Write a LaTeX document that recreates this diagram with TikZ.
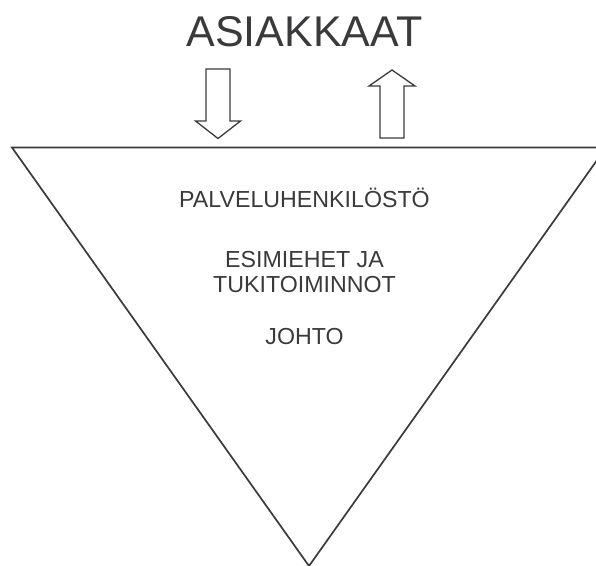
\documentclass[tikz,border=0pt]{standalone}
\usepackage{fontspec}
\setmainfont{Liberation Sans}
\usetikzlibrary{positioning}

\definecolor{ink}{RGB}{58,58,60}

\begin{document}
\begin{tikzpicture}[x=1pt, y=-1pt,
    title/.style={anchor=base, text=ink, font=\fontsize{43}{50}\selectfont},
    level/.style={anchor=base, text=ink, align=center, font=\fontsize{23.2}{25}\selectfont},
    pyramid/.style={draw=ink, line width=1.7pt, line join=miter},
    flow/.style={draw=ink, line width=1.3pt, line join=miter}
]

\useasboundingbox (0,0) rectangle (596,565);
\clip (0,0) rectangle (596,565);

% the upside-down organisation
\coordinate (TopLeft) at (12,147.5);
\coordinate (TopRight) at (606,147.5);
\coordinate (Bottom) at (309,566);
\draw [pyramid] (TopLeft) -- (TopRight) -- (Bottom) -- cycle;

\node [title] (Customers) at (304.5,46.5) {ASIAKKAAT};

% service goes down, feedback comes up
\coordinate (In) at (206,69);
\draw [flow] (In) -- ++(24,0) -- ++(0,52) -- ++(10.5,0) -- ++(-22.5,17.5)
    -- ++(-22.5,-17.5) -- ++(10.5,0) -- cycle;
\coordinate (Out) at (392,70);
\draw [flow] (Out) -- ++(23,16) -- ++(-11,0) -- ++(0,52) -- ++(-24,0)
    -- ++(0,-52) -- ++(-11,0) -- cycle;

\node [level] (Staff) at (304.5,207.5) {PALVELUHENKILÖSTÖ};
\node [level] (Support) at (304.5,292) {ESIMIEHET JA\\TUKITOIMINNOT};
\node [level] (Management) at (304.5,344.5) {JOHTO};

\end{tikzpicture}
\end{document}
